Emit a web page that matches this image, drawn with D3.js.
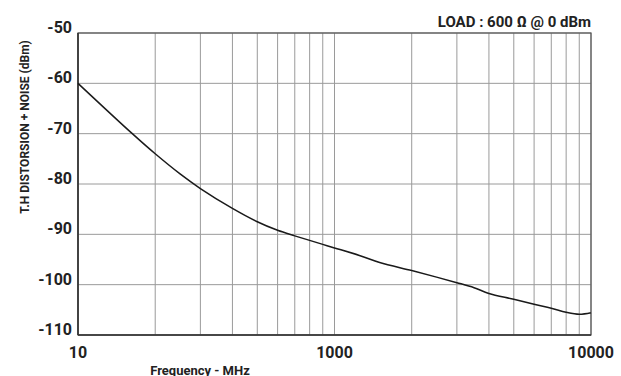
<!DOCTYPE html>
<html>
<head>
<meta charset="utf-8">
<script src="https://cdn.jsdelivr.net/npm/d3@7"></script>
<style>
  html, body { margin: 0; padding: 0; background: #fff; }
  svg { display: block; }
  text { font-family: Roboto, "Liberation Sans", sans-serif; font-weight: bold; fill: #222; }
</style>
</head>
<body>
<svg id="chart" width="621" height="376"></svg>
<script>
// ---- data ----
const freq = [100, 162, 200, 250, 300, 400, 500, 600, 700, 800, 900, 1000, 1250, 1500, 2000, 2500, 3000, 3500, 4000, 5000, 6000, 7000, 8000, 9000, 10000];
const thdn = [-60, -69.9, -74.0, -78.0, -80.9, -84.85, -87.5, -89.2, -90.3, -91.2, -92.0, -92.7, -94.2, -95.6, -97.2, -98.5, -99.6, -100.6, -101.75, -102.9, -103.9, -104.7, -105.5, -105.9, -105.6];
const xTickValues = [100, 1000, 10000];
const xTickLabels = ["10", "1000", "10000"];
const yTickValues = [-50, -60, -70, -80, -90, -100, -110];
const yTickLabels = ["-50", "-60", "-70", "-80", "-90", "-100", "-110"];
const title = "LOAD : 600 \u03A9 @ 0 dBm";
const yTitle = "T.H DISTORSION + NOISE (dBm)";
const xTitle = "Frequency - MHz";

// ---- layout ----
const svg = d3.select("#chart");
const L = 78, R = 591, T = 33, B = 335;

const x = d3.scaleLog().domain([100, 10000]).range([L, R]);
const y = d3.scaleLinear().domain([-110, -50]).range([B, T]);

// grid
const g = svg.append("g");
g.selectAll("line.vg").data(x.ticks()).join("line")
  .attr("x1", d => x(d)).attr("x2", d => x(d))
  .attr("y1", T).attr("y2", B)
  .attr("stroke", "#9a9a9a").attr("stroke-width", 1);
g.selectAll("line.hg").data(yTickValues).join("line")
  .attr("x1", L).attr("x2", R)
  .attr("y1", d => y(d)).attr("y2", d => y(d))
  .attr("stroke", "#9a9a9a").attr("stroke-width", 1);

// frame
svg.append("rect").attr("x", L).attr("y", T).attr("width", R - L).attr("height", B - T)
  .attr("fill", "none").attr("stroke", "#555").attr("stroke-width", 1.2);
svg.append("line").attr("x1", L).attr("x2", L).attr("y1", T).attr("y2", B).attr("stroke", "#333").attr("stroke-width", 1.6);
svg.append("line").attr("x1", L).attr("x2", R).attr("y1", B).attr("y2", B).attr("stroke", "#333").attr("stroke-width", 1.6);

// curve
const line = d3.line().x((d, i) => x(freq[i])).y(d => y(d)).curve(d3.curveCatmullRom.alpha(0.5));
svg.append("path").attr("d", line(thdn))
  .attr("fill", "none").attr("stroke", "#1a1a1a").attr("stroke-width", 1.5);

// y tick labels
svg.selectAll("text.yt").data(yTickValues).join("text")
  .attr("x", 72).attr("y", d => y(d))
  .attr("text-anchor", "end").attr("font-size", 16)
  .text((d, i) => yTickLabels[i]);

// x tick labels
svg.selectAll("text.xt").data(xTickValues).join("text")
  .attr("x", d => x(d)).attr("y", 358)
  .attr("text-anchor", "middle").attr("font-size", 16)
  .text((d, i) => xTickLabels[i]);

// title
svg.append("text").attr("x", R).attr("y", 27).attr("text-anchor", "end")
  .attr("font-size", 15).text(title);

// y title
svg.append("text").attr("transform", "translate(29,127) rotate(-90)")
  .attr("text-anchor", "middle").attr("font-size", 12).text(yTitle);

// x title
svg.append("text").attr("x", 200).attr("y", 374.5).attr("text-anchor", "middle")
  .attr("font-size", 13).text(xTitle);
</script>
</body>
</html>
